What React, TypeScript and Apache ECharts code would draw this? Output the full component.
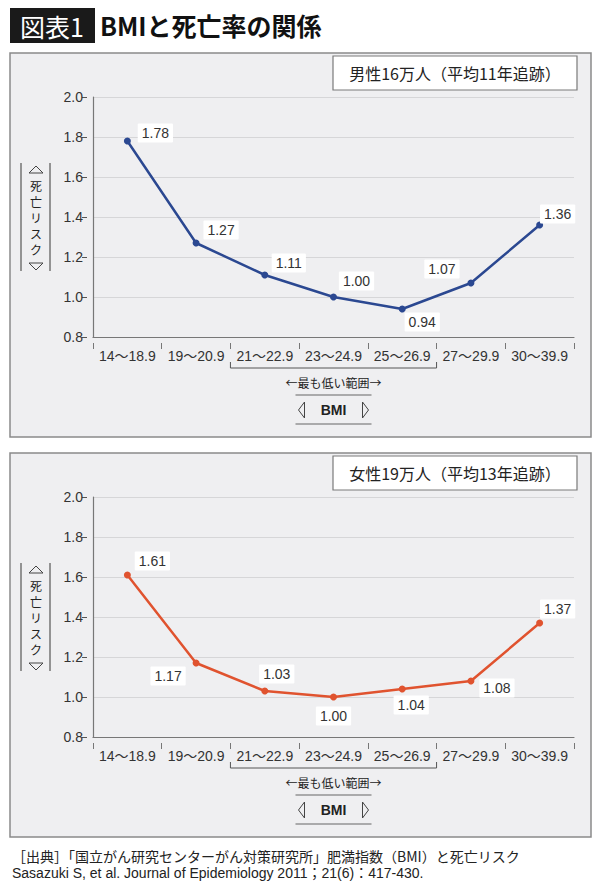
import React, { useEffect, useRef } from 'react'
import * as echarts from 'echarts'

// BMI区分
const categories = ['14〜18.9', '19〜20.9', '21〜22.9', '23〜24.9', '25〜26.9', '27〜29.9', '30〜39.9']
// 死亡リスク（男性・女性）
const maleRisk = [1.78, 1.27, 1.11, 1.0, 0.94, 1.07, 1.36]
const femaleRisk = [1.61, 1.17, 1.03, 1.0, 1.04, 1.08, 1.37]
const yMin = 0.8
const yMax = 2.0
const yStep = 0.2

const maleTitle = '男性16万人（平均11年追跡）'
const femaleTitle = '女性19万人（平均13年追跡）'
const yTitleChars = ['死', '亡', 'リ', 'ス', 'ク']

// ラベルの位置ずらし（点からの距離）
const maleOffsets = [[28, -8], [25, -13], [24, -12], [23, -16], [20, 13], [-29, -14], [18, -11]]
const femaleOffsets = [[25, -14], [-28, 13], [12, -17], [0, 19], [9, 16], [26, 7], [18, -14]]

const JP = '"Noto Sans CJK JP"'
const NUM = '"Liberation Sans", "Noto Sans CJK JP"'

const PANEL_DY = 400
const GRID_LEFT = 93
const GRID_RIGHT = 574
const GRID_TOP = 97
const GRID_H = 240

const txt = (text: string, x: number, y: number, font: string, align = 'center', fill = '#222') => ({
  type: 'text',
  x,
  y,
  z: 10,
  style: { text, font, fill, textAlign: align, textVerticalAlign: 'middle' }
})

const poly = (points: number[][]) => ({
  type: 'polygon',
  z: 10,
  shape: { points },
  style: { stroke: '#444', fill: 'none', lineWidth: 1 }
})

const line = (x1: number, y1: number, x2: number, y2: number, color = '#555', w = 1.2) => ({
  type: 'line',
  z: 10,
  shape: { x1, y1, x2, y2 },
  style: { stroke: color, lineWidth: w }
})

const panelGraphics = (dy: number, title: string) => {
  const band = (GRID_RIGHT - GRID_LEFT) / categories.length
  const bx1 = GRID_LEFT + band * 2
  const bx2 = GRID_LEFT + band * 5
  const cx = (bx1 + bx2) / 2
  return [
    {
      type: 'rect',
      z: -10,
      shape: { x: 10, y: 53 + dy, width: 581, height: 384 },
      style: { fill: '#efeff1', stroke: '#8a8a8a', lineWidth: 1.5 }
    },
    {
      type: 'rect',
      z: 5,
      shape: { x: 333, y: 56 + dy, width: 244, height: 34 },
      style: { fill: '#ffffff', stroke: '#7a7a7a', lineWidth: 1.2 }
    },
    txt(title, 455, 73 + dy, `16px ${JP}`),
    // 縦軸タイトル
    line(21, 163 + dy, 21, 271 + dy),
    line(50, 163 + dy, 50, 271 + dy),
    poly([[29, 173 + dy], [36, 166 + dy], [43, 173 + dy]]),
    poly([[29, 263 + dy], [43, 263 + dy], [36, 270 + dy]]),
    ...yTitleChars.map((c, k) => txt(c, 36, 185 + k * 16 + dy, `12px ${JP}`)),
    // 最も低い範囲
    {
      type: 'polyline',
      z: 10,
      shape: { points: [[bx1, 362 + dy], [bx1, 368 + dy], [bx2, 368 + dy], [bx2, 362 + dy]] },
      style: { stroke: '#555', lineWidth: 1, fill: 'none' }
    },
    txt('←最も低い範囲→', cx, 382 + dy, `12px ${JP}`),
    line(cx - 38, 395 + dy, cx + 38, 395 + dy, '#666', 1.2),
    line(cx - 38, 424 + dy, cx + 38, 424 + dy, '#666', 1.2),
    poly([[cx - 29, 402 + dy], [cx - 35, 410 + dy], [cx - 29, 418 + dy]]),
    poly([[cx + 29, 402 + dy], [cx + 35, 410 + dy], [cx + 29, 418 + dy]]),
    txt('BMI', cx, 410 + dy, `bold 14px ${NUM}`)
  ]
}

const App: React.FC = () => {
  const chartRef = useRef<HTMLDivElement>(null)

  useEffect(() => {
    if (!chartRef.current) return
    document.body.style.margin = '0'
    const chart = echarts.init(chartRef.current, undefined, { renderer: 'svg' })

    const grids = [0, 1].map(i => ({
      left: GRID_LEFT,
      top: GRID_TOP + i * PANEL_DY,
      width: GRID_RIGHT - GRID_LEFT,
      height: GRID_H
    }))

    const xAxes: any[] = []
    const yAxes: any[] = []
    ;[0, 1].forEach(i => {
      // 軸線のみ
      xAxes.push({
        type: 'category',
        gridIndex: i,
        data: categories,
        boundaryGap: true,
        axisLine: { lineStyle: { color: '#777', width: 1.2 } },
        axisTick: { show: false },
        axisLabel: { show: false }
      })
      // 目盛りとラベル
      xAxes.push({
        type: 'category',
        gridIndex: i,
        data: categories,
        offset: 6,
        position: 'bottom',
        axisLine: { show: false },
        axisTick: { show: true, length: 6, lineStyle: { color: '#777' } },
        axisLabel: { interval: 0, margin: 6, fontSize: 14, color: '#333', fontFamily: NUM }
      })
      yAxes.push({
        type: 'value',
        gridIndex: i,
        min: yMin,
        max: yMax,
        interval: yStep,
        axisLine: { show: true, lineStyle: { color: '#777', width: 1.2 } },
        axisTick: { show: false },
        axisLabel: { show: false },
        splitLine: { lineStyle: { color: '#d6d6d8', width: 1 } }
      })
      yAxes.push({
        type: 'value',
        gridIndex: i,
        min: yMin,
        max: yMax,
        interval: yStep,
        offset: 6,
        position: 'left',
        axisLine: { show: false },
        axisTick: { show: true, length: 5, lineStyle: { color: '#555' } },
        axisLabel: {
          margin: 4,
          fontSize: 14,
          color: '#333',
          fontFamily: NUM,
          formatter: (v: number) => v.toFixed(1)
        },
        splitLine: { show: false }
      })
    })

    const makeSeries = (values: number[], offsets: number[][], color: string, i: number) => ({
      type: 'line',
      xAxisIndex: i * 2,
      yAxisIndex: i * 2,
      data: values.map((v, k) => ({
        value: v,
        label: { offset: offsets[k] }
      })),
      symbol: 'circle',
      symbolSize: 7,
      lineStyle: { color, width: 2.5 },
      itemStyle: { color },
      label: {
        show: true,
        position: 'inside',
        formatter: (p: any) => Number(p.value).toFixed(2),
        fontSize: 14,
        fontFamily: NUM,
        color: '#333',
        backgroundColor: '#ffffff',
        padding: [3, 4, 2, 4],
        borderRadius: 1
      },
      z: 5
    })

    const option = {
      animation: false,
      grid: grids,
      xAxis: xAxes,
      yAxis: yAxes,
      series: [
        makeSeries(maleRisk, maleOffsets, '#2b4891', 0),
        makeSeries(femaleRisk, femaleOffsets, '#e0532f', 1)
      ],
      graphic: {
        elements: [
          {
            type: 'rect',
            z: 5,
            shape: { x: 10, y: 8, width: 85, height: 35 },
            style: { fill: '#1a1a1a' }
          },
          txt('図表1', 52, 26, `25px ${JP}`, 'center', '#ffffff'),
          txt('BMIと死亡率の関係', 100, 25, `bold 25px ${JP}`, 'left', '#111'),
          ...panelGraphics(0, maleTitle),
          ...panelGraphics(PANEL_DY, femaleTitle),
          txt('［出典］「国立がん研究センターがん対策研究所」肥満指数（BMI）と死亡リスク', 12, 856, `14px ${JP}`, 'left', '#222'),
          txt('Sasazuki S, et al. Journal of Epidemiology 2011；21(6)：417-430.', 12, 873, `14px ${NUM}`, 'left', '#222')
        ]
      }
    }

    chart.setOption(option)

    const handleResize = () => chart.resize()
    window.addEventListener('resize', handleResize)
    return () => {
      window.removeEventListener('resize', handleResize)
      chart.dispose()
    }
  }, [])

  return <div ref={chartRef} style={{ width: 600, height: 889, background: '#ffffff' }} />
}

export default App
